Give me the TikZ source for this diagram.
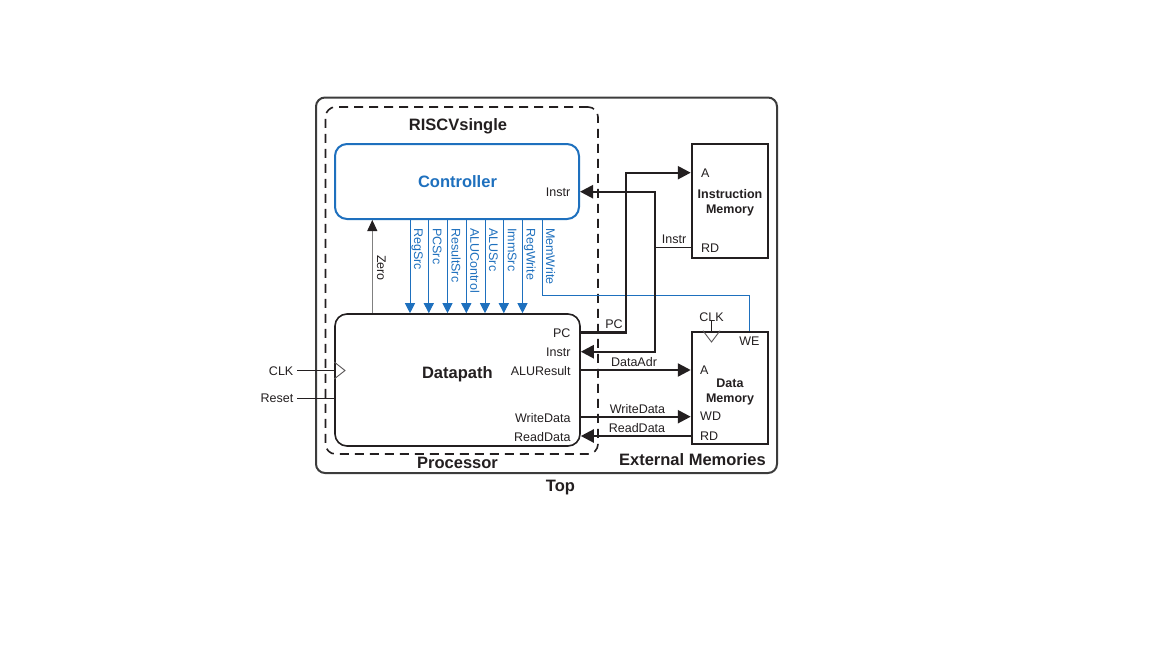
\documentclass[tikz,border=0pt]{standalone}
\usepackage{fontspec}
\setmainfont{Liberation Sans}
\usetikzlibrary{arrows.meta}
\definecolor{ctlblue}{RGB}{30,112,190}
\definecolor{ink}{RGB}{35,31,32}
\definecolor{frame}{RGB}{60,60,60}
\begin{document}
\begin{tikzpicture}[x=1pt,y=-1pt,
  lbl/.style={font=\fontsize{12.5}{14}\selectfont, text=ink, inner sep=0pt},
  bl/.style={lbl, text=ctlblue, rotate=-90, anchor=base west},
  ttl/.style={font=\fontsize{16.5}{18}\selectfont\bfseries, text=ink, inner sep=0pt, anchor=base},
  mtl/.style={font=\fontsize{12.5}{14}\selectfont\bfseries, text=ink, inner sep=0pt, anchor=base},
  bus/.style={draw=ink, line width=2.4pt},
  busarrow/.style={bus, -{Triangle[length=13pt,width=13pt]}},
  sig/.style={draw=ctlblue, line width=1pt, -{Triangle[length=10pt,width=10pt]}},
  wire/.style={draw=ink, line width=1pt},
  membox/.style={draw=ink, line width=2.5pt, inner sep=0pt}
]
\fill[white] (0,0) rectangle (1152,648);
\useasboundingbox (0,0) rectangle (1152,648);

% boxes
\node[draw=frame, line width=2pt, rounded corners=9pt, minimum width=461pt, minimum height=375.5pt, inner sep=0pt] (top) at (546.5,285.25) {};
\node[draw=ink, line width=1.6pt, dash pattern=on 9pt off 6pt, rounded corners=10pt, minimum width=272.5pt, minimum height=347pt, inner sep=0pt] (proc) at (461.75,280.5) {};
\node[draw=ctlblue, line width=2pt, rounded corners=12pt, minimum width=244pt, minimum height=75pt, inner sep=0pt] (ctrl) at (457,181.5) {};
\node[draw=ink, line width=1.6pt, rounded corners=12pt, minimum width=245pt, minimum height=132pt, inner sep=0pt] (dp) at (457.5,380) {};
\node[membox, minimum width=76pt, minimum height=114pt] (imem) at (730,201) {};
\node[membox, minimum width=76pt, minimum height=112pt] (dmem) at (730,388) {};

% titles
\node[ttl] (tRISCV) at (458,130.7) {RISCVsingle};
\node[ttl, text=ctlblue] (tCtrl) at (457.5,187.7) {Controller};
\node[ttl] (tDp) at (457.3,378) {Datapath};
\node[ttl] (tProc) at (457.5,468) {Processor};
\node[ttl] (tTop) at (560.5,491) {Top};
\node[ttl] (tExt) at (692.5,465) {External Memories};
\node[mtl] (tIm1) at (730,198) {Instruction};
\node[mtl] (tIm2) at (730,213) {Memory};
\node[mtl] (tDm1) at (730,387.5) {Data};
\node[mtl] (tDm2) at (730,402) {Memory};

% port labels
\node[lbl, anchor=base east] (cInstr) at (570.5,196) {Instr};
\node[lbl, anchor=base east] (pPC) at (570.7,337) {PC};
\node[lbl, anchor=base east] (pInstr) at (570.7,356) {Instr};
\node[lbl, anchor=base east] (pALU) at (570.7,375) {ALUResult};
\node[lbl, anchor=base east] (pWD) at (570.7,422) {WriteData};
\node[lbl, anchor=base east] (pRD) at (570.7,441) {ReadData};
\node[lbl, anchor=base east] (clkL) at (293.5,375) {CLK};
\node[lbl, anchor=base east] (rstL) at (293.5,402) {Reset};
\node[lbl, anchor=base west] (iA) at (701,177) {A};
\node[lbl, anchor=base west] (iRD) at (701,252) {RD};
\node[lbl, anchor=base west] (dA) at (700,374) {A};
\node[lbl, anchor=base west] (dWD) at (700,420) {WD};
\node[lbl, anchor=base west] (dRD) at (700,440) {RD};
\node[lbl, anchor=base] (dWE) at (749.5,345) {WE};
\node[lbl, anchor=base] (dclk) at (711.5,321) {CLK};

% wire labels
\node[lbl, anchor=base] (wPC) at (614,328) {PC};
\node[lbl, anchor=base] (wInstr) at (674,243) {Instr};
\node[lbl, anchor=base] (wDA) at (634,366) {DataAdr};
\node[lbl, anchor=base] (wWD) at (637.5,413.5) {WriteData};
\node[lbl, anchor=base] (wRD) at (637,432) {ReadData};

% control signals
\foreach \x/\name in {410/RegSrc,428.8/PCSrc,447.5/ResultSrc,466.3/ALUControl,485/ALUSrc,503.8/ImmSrc,522.5/RegWrite}{
  \draw[sig] (ctrl.south -| \x,0) -- (dp.north -| \x,0);
  \node[bl] at (\x+4,228) {\name};
}
\node[bl] (lMW) at (546,228) {MemWrite};
\coordinate (mwTurn) at (749,295);
\draw[draw=ctlblue, line width=1pt] (ctrl.south -| 542,0) |- (mwTurn) -- (dmem.north -| mwTurn);

% Zero
\draw[draw=gray, line width=1pt, -{Triangle[length=11pt,width=10pt,color=ink]}] (dp.north -| 372.3,0) -- (ctrl.south -| 372.3,0);
\node[bl, text=ink] (lZero) at (377,255) {Zero};

% PC bus
\coordinate (pcUp) at (626,332.5);
\draw[busarrow] (dp.east |- pcUp) -- (pcUp) |- (imem.west |- 0,172.7);

% Instr bus
\coordinate (jn) at (655,247.3);
\draw[draw=ink, line width=1.3pt] (imem.west |- jn) -- (jn);
\draw[busarrow] (jn) |- (ctrl.east |- 0,191.7);
\draw[busarrow] (jn) |- (dp.east |- 0,351.7);

% data memory buses
\draw[busarrow] (dp.east |- 0,370) -- (dmem.west |- 0,370);
\draw[busarrow] (dp.east |- 0,416.7) -- (dmem.west |- 0,416.7);
\draw[busarrow] (dmem.west |- 0,436) -- (dp.east |- 0,436);

% clock and reset
\draw[wire] ([xshift=3.5pt]clkL.east) -- (dp.west |- clkL.east);
\draw[wire] ([xshift=3.5pt]rstL.east |- 0,398.3) -- (dp.west |- 0,398.3);
\draw[draw=ink!75, line width=0.9pt] (dp.west |- 0,362) -- (345,370.5) -- (dp.west |- 0,379);
\draw[wire] (dclk.south) -- (dmem.north -| dclk.south);
\draw[draw=ink!75, line width=0.9pt] (dmem.north -| 703,0) -- (711.5,342) -- (dmem.north -| 720,0);
\end{tikzpicture}
\end{document}
